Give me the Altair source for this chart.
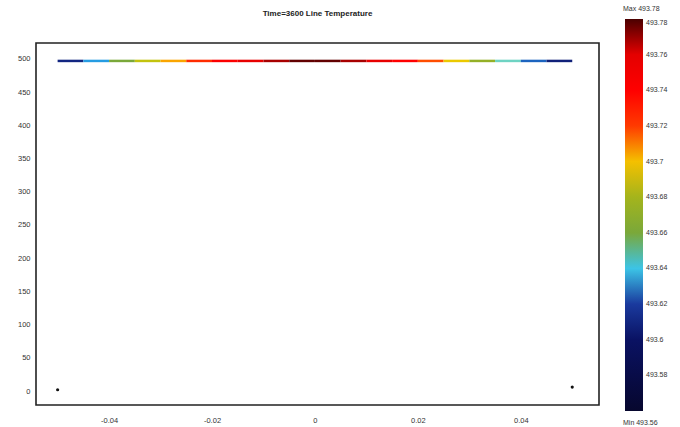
import altair as alt
import pandas as pd

# Line temperature along the arc (x, temperature)
line_x = [-0.05, -0.045, -0.04, -0.035, -0.03, -0.025, -0.02, -0.015, -0.01, -0.005,
          0.0, 0.005, 0.01, 0.015, 0.02, 0.025, 0.03, 0.035, 0.04, 0.045, 0.05]
line_t = [493.60, 493.62, 493.645, 493.675, 493.695, 493.715, 493.735, 493.75, 493.765, 493.775,
          493.78, 493.775, 493.765, 493.75, 493.73, 493.705, 493.685, 493.66, 493.635, 493.615, 493.60]
line_y = 497

# End points of the domain
pt_x = [-0.05, 0.05]
pt_y = [2, 6]

# Colour bar
cb_stops = [493.56, 493.60, 493.62, 493.63, 493.64, 493.65, 493.66, 493.68, 493.69,
            493.70, 493.71, 493.72, 493.74, 493.76, 493.77, 493.78]
cb_colors = ["#07072e", "#0a1263", "#1a3a9e", "#1e8ee0", "#3cc4e6", "#7fd8b8", "#7aa83a",
             "#a4b41c", "#e2d200", "#f4c000", "#ff8a00", "#ff3a00", "#ff0000", "#e40000",
             "#a80000", "#4a0000"]
cb_labels = [493.58, 493.6, 493.62, 493.64, 493.66, 493.68, 493.7, 493.72, 493.74, 493.76, 493.78]
t_max = 493.78
t_min = 493.56
title_text = "Time=3600   Line Temperature"

x_ticks = [-0.04, -0.02, 0, 0.02, 0.04]
y_ticks = [0, 50, 100, 150, 200, 250, 300, 350, 400, 450, 500]

seg = pd.DataFrame({
    "x": line_x[:-1],
    "x2": line_x[1:],
    "y": [line_y] * (len(line_x) - 1),
    "t": [(a + b) / 2 for a, b in zip(line_t[:-1], line_t[1:])],
})
pts = pd.DataFrame({"x": pt_x, "y": pt_y})

FONT = "Liberation Sans"

xscale = alt.Scale(domain=[-0.0542, 0.0552], nice=False, zero=False)
yscale = alt.Scale(domain=[-21, 524], nice=False, zero=False)
cscale = alt.Scale(domain=cb_stops, range=cb_colors, interpolate="rgb")

xaxis = alt.Axis(values=x_ticks, title=None, ticks=False, domain=False, grid=False,
                 labelExpr="datum.value == 0 ? '0' : replace(format(datum.value, '.2f'), '\u2212', '-')",
                 labelFontSize=7.5, labelColor="#333", labelPadding=11, labelFont=FONT,
                 labelOverlap=False)
yaxis = alt.Axis(values=y_ticks, tickCount=11, title=None, ticks=False, domain=False, grid=False,
                 labelFontSize=7.5, labelColor="#333", labelPadding=6, labelFont=FONT,
                 labelOverlap=False, labelBound=False)

line = alt.Chart(seg).mark_rule(strokeWidth=2.5, strokeCap="butt").encode(
    x=alt.X("x:Q", scale=xscale, axis=xaxis),
    x2="x2:Q",
    y=alt.Y("y:Q", scale=yscale, axis=yaxis),
    color=alt.Color("t:Q", scale=cscale, legend=alt.Legend(
        title=None, orient="none", legendX=589, legendY=-24, direction="vertical",
        gradientLength=392, gradientThickness=18, values=cb_labels, format=".2~f",
        labelFontSize=7, labelColor="#333", labelFont=FONT, labelOffset=3,
        labelOverlap=False, gradientStrokeWidth=0, padding=0)),
)

points = alt.Chart(pts).mark_point(filled=True, size=10, color="#111", opacity=1).encode(
    x=alt.X("x:Q", scale=xscale, axis=xaxis),
    y=alt.Y("y:Q", scale=yscale, axis=yaxis),
)

mm = pd.DataFrame({"label": [f"Max {t_max:.2f}", f"Min {t_min:.2f}"],
                   "py": [-34, 380]})
maxmin = alt.Chart(mm).mark_text(align="left", baseline="middle", fontSize=7,
                                 color="#333", font=FONT).encode(
    text="label:N",
    x=alt.value(587),
    y=alt.Y("py:Q", scale=None),
)

ttl = alt.Chart(pd.DataFrame({"label": [title_text]})).mark_text(
    align="center", baseline="middle", fontSize=8, fontWeight="bold",
    color="#222", font=FONT).encode(
    text="label:N",
    x=alt.value(281.5),
    y=alt.value(-29),
)

chart = alt.layer(line, points, maxmin, ttl).properties(
    width=563, height=362,
    autosize=alt.AutoSizeParams(type="none"),
    padding={"left": 36, "top": 43, "right": 81, "bottom": 22},
).configure(background="white", view=alt.ViewConfig(stroke="#222", strokeWidth=1.6))

chart.save("out.html", embed_options={"renderer": "svg", "actions": False})
